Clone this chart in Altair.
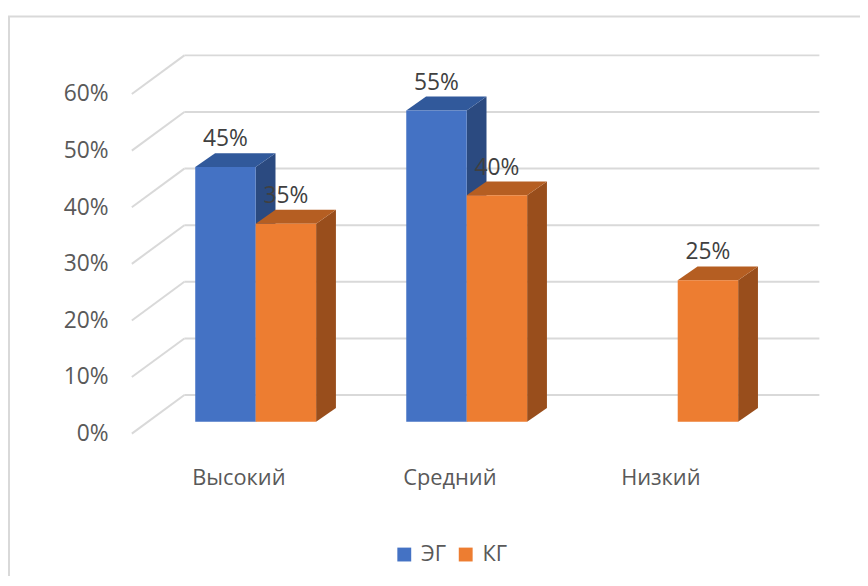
import altair as alt
import pandas as pd

# ---------------- data ----------------
categories = ["Высокий", "Средний", "Низкий"]
series = ["ЭГ", "КГ"]
eg_values = [45, 55, 0]
kg_values = [35, 40, 25]
y_ticks = [0, 10, 20, 30, 40, 50, 60]

# ---------------- style ----------------
FONT = "Open Sans"
PX = 5.714            # pixels per 1 %
PLOT_LEFT, PLOT_TOP = 133, 40
W, H = 727, 410
FRONT0 = 435          # page y of 0 % on the front plane
BAR_BASE_PX = 12      # bars sit a bit behind the front plane
BAR_DX, BAR_DY = 20, 14
WALL_DX, WALL_DY = 53, 39
GROUP_X0, GROUP_STEP, BAR_W = 64, 213, 61
WALL_X1 = 694
LABEL_SHIFT = 17

front_colors = ["#4472C4", "#ED7D31"]
top_colors = ["#31599B", "#B55E22"]
side_colors = ["#2B4A80", "#994E1C"]
grid_color = "#D9D9D9"
text_color = "#595959"

y_min = (FRONT0 - (PLOT_TOP + H)) / PX
y_max = (FRONT0 - PLOT_TOP) / PX
base = BAR_BASE_PX / PX
bdy = BAR_DY / PX
wdy = WALL_DY / PX

yscale = alt.Scale(domain=[y_min, y_max], nice=False, zero=False)
xscale = alt.Scale(domain=[0, W], nice=False, zero=False)
yaxis = alt.Axis(values=y_ticks, labelExpr="datum.value + '%'", title=None,
                 domain=False, ticks=False, grid=False, labelPadding=24,
                 labelFont=FONT, labelFontSize=23, labelColor=text_color,
                 zindex=1)


def Y(field):
    return alt.Y(field, type="quantitative", scale=yscale, axis=yaxis)


def X(field):
    return alt.X(field, type="quantitative", scale=xscale, axis=None)


# ---------------- tables ----------------
front_rows, side_rows, top_rows = [], [], []
values_by_series = [eg_values, kg_values]
for i, cat in enumerate(categories):
    for j, s in enumerate(series):
        v = values_by_series[j][i]
        if v <= 0:
            continue
        bid = f"{i}-{j}"
        x0 = GROUP_X0 + i * GROUP_STEP + j * BAR_W
        x1 = x0 + BAR_W
        front_rows.append(dict(id=bid, cat=cat, series=s, x0=x0, x1=x1,
                               xc=(x0 + x1) / 2, lo=base, hi=base + v,
                               label=f"{v}%"))
        side_rows.append(dict(id=bid, x=x1, lo=base, hi=base + v, c=side_colors[j]))
        side_rows.append(dict(id=bid, x=x1 + BAR_DX, lo=base + bdy, hi=base + v + bdy,
                              c=side_colors[j]))
        top_rows.append(dict(id=bid, y=base + v, xa=x0, xb=x1, c=top_colors[j]))
        top_rows.append(dict(id=bid, y=base + v + bdy, xa=x0 + BAR_DX, xb=x1 + BAR_DX,
                             c=top_colors[j]))

front_df = pd.DataFrame(front_rows)
side_df = pd.DataFrame(side_rows)
top_df = pd.DataFrame(top_rows)

grid_df = pd.DataFrame({
    "fy": y_ticks,
    "by": [t + wdy for t in y_ticks],
    "xf": [0] * len(y_ticks),
    "xb": [WALL_DX] * len(y_ticks),
    "xe": [WALL_X1] * len(y_ticks),
})

cat_df = pd.DataFrame({
    "cat": categories,
    "cx": [GROUP_X0 + i * GROUP_STEP + BAR_W - LABEL_SHIFT for i in range(len(categories))],
})

# ---------------- layers ----------------
frame = alt.Chart(pd.DataFrame({"a": [0]})).mark_rect(
    fillOpacity=0, stroke=grid_color, strokeWidth=2
).encode(
    x=alt.value(9 - PLOT_LEFT), x2=alt.value(W + 40),
    y=alt.value(14 - PLOT_TOP), y2=alt.value(H + 300),
)

diag = alt.Chart(grid_df).mark_rule(color=grid_color, strokeWidth=2).encode(
    x=X("xf"), x2=alt.X2("xb"), y=Y("fy"), y2=alt.Y2("by")
)
back = alt.Chart(grid_df).mark_rule(color=grid_color, strokeWidth=2).encode(
    x=X("xb"), x2=alt.X2("xe"), y=Y("by")
)

sides = alt.Chart(side_df).mark_area(interpolate="linear", opacity=1).encode(
    x=X("x"), y=alt.Y("hi", type="quantitative", scale=yscale, axis=yaxis, stack=None),
    y2=alt.Y2("lo"), color=alt.Color("c:N", scale=None), detail="id:N"
)
tops = alt.Chart(top_df).mark_area(orient="horizontal", interpolate="linear", opacity=1).encode(
    y=Y("y"), x=alt.X("xa", type="quantitative", scale=xscale, axis=None, stack=None),
    x2=alt.X2("xb"), color=alt.Color("c:N", scale=None), detail="id:N"
)
fronts = alt.Chart(front_df).mark_rect().encode(
    x=X("x0"), x2=alt.X2("x1"), y=Y("hi"), y2=alt.Y2("lo"),
    color=alt.Color("series:N", scale=alt.Scale(domain=series, range=front_colors),
                    legend=alt.Legend(
                        orient="none", legendX=264, legendY=506, direction="horizontal",
                        title=None, symbolType="square", symbolSize=196,
                        symbolStrokeWidth=0, symbolOpacity=1, labelFont=FONT,
                        labelFontSize=22, labelColor=text_color, labelOffset=6,
                        columnPadding=8, padding=0)),
)
vlabels = alt.Chart(front_df).mark_text(
    baseline="middle", dy=-28, font=FONT, fontSize=23, color="#404040"
).encode(x=X("xc"), y=Y("hi"), text="label:N")

clabels = alt.Chart(cat_df).mark_text(
    baseline="middle", font=FONT, fontSize=22, color=text_color
).encode(x=X("cx"), y=alt.value(480 - PLOT_TOP), text="cat:N")

chart = alt.layer(frame, diag, back, sides, tops, fronts, vlabels, clabels).properties(
    width=W, height=H, background="white",
    autosize=alt.AutoSizeParams(type="none"),
    padding={"left": PLOT_LEFT - 8, "top": PLOT_TOP - 8, "right": 8, "bottom": 126},
).configure_view(strokeWidth=0)

chart.save("out.html", embed_options={"renderer": "svg", "actions": False})
